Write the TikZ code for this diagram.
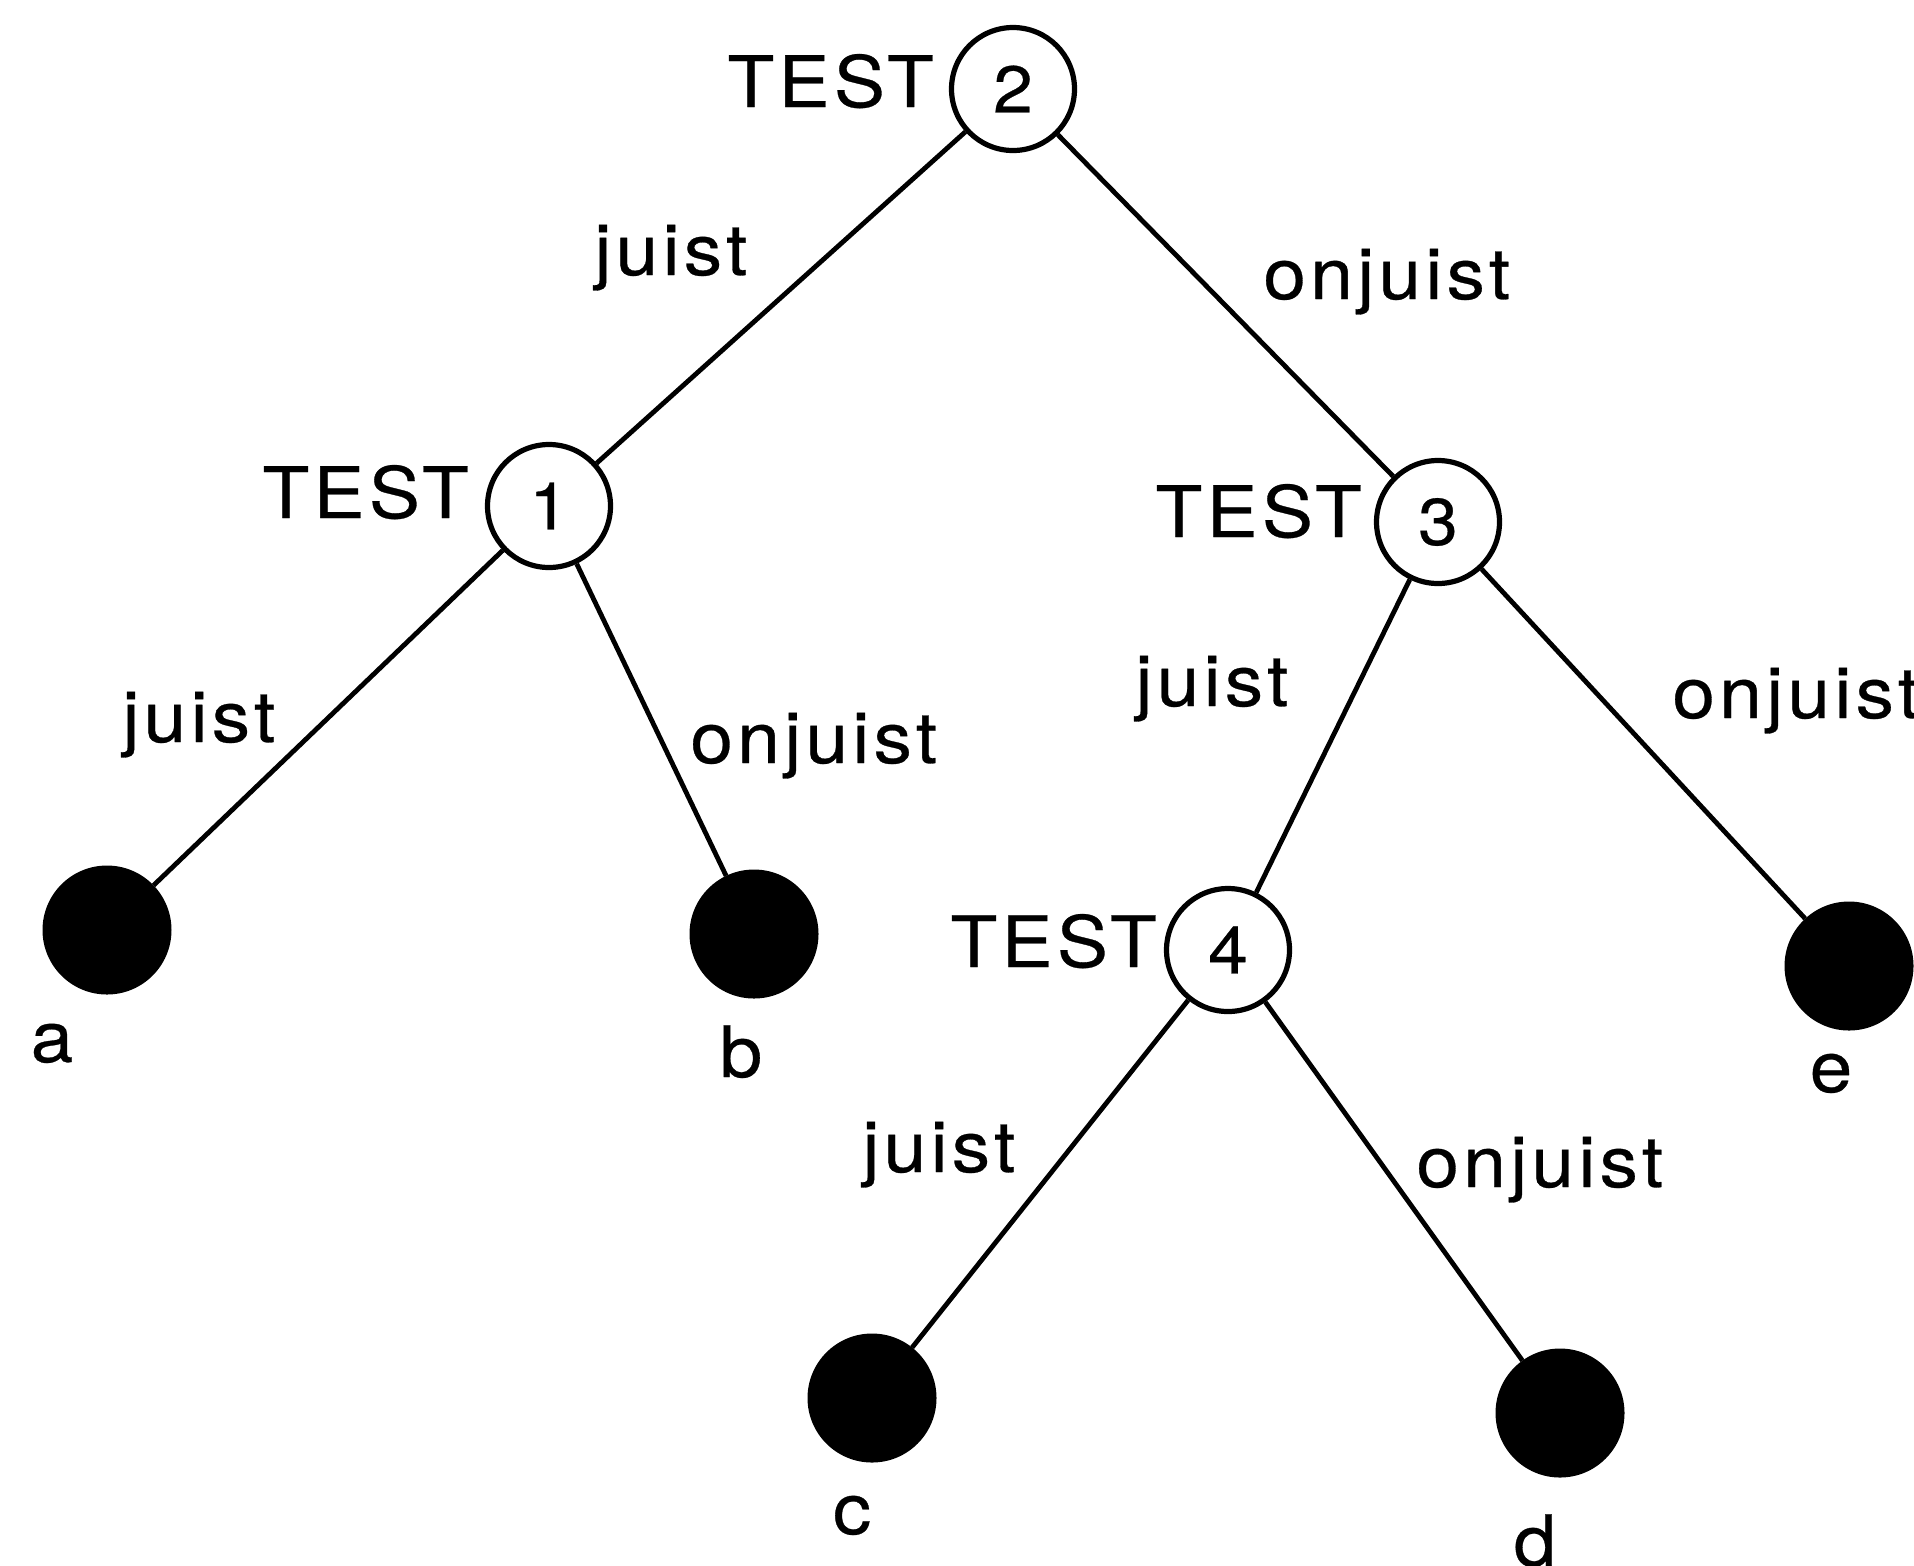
\documentclass[tikz,border=0pt]{standalone}
\usepackage{fontspec}
\setmainfont{TeX Gyre Heros}[LetterSpace=6,FakeStretch=1.08,FakeBold=0.4]
\begin{document}
\begin{tikzpicture}[x=0.5pt,y=-0.5pt,
  lbl/.style={inner sep=0pt,font=\fontsize{35.5pt}{40pt}\selectfont},
  testnode/.style={circle,draw,line width=2.6pt,fill=white,minimum size=61.5pt,inner sep=0pt,font=\fontsize{33pt}{38pt}\selectfont},
  leaf/.style={circle,draw,fill=black,line width=1.5pt,minimum size=63pt,inner sep=0pt},
  edge/.style={line width=2.4pt}]
\useasboundingbox (0,0) rectangle (1914,1565);
% decision nodes
\node[testnode] (t2) at (1013,89) {2};
\node[testnode] (t1) at (549,506) {1};
\node[testnode] (t3) at (1438,522) {3};
\node[testnode] (t4) at (1228,950) {4};
% leaves
\node[leaf] (la) at (107,930) {};
\node[leaf] (lb) at (754,934) {};
\node[leaf] (lc) at (872,1398) {};
\node[leaf] (ld) at (1560,1413) {};
\node[leaf] (le) at (1849,966) {};
% edges
\draw[edge] (t2) -- (t1);
\draw[edge] (t2) -- (t3);
\draw[edge] (t1) -- (la);
\draw[edge] (t1) -- (lb);
\draw[edge] (t3) -- (t4);
\draw[edge] (t3) -- (le);
\draw[edge] (t4) -- (lc);
\draw[edge] (t4) -- (ld);
% TEST labels
\node[lbl,anchor=base west] (n2) at (727,107) {TEST};
\node[lbl,anchor=base west] (n1) at (262,518) {TEST};
\node[lbl,anchor=base west] (n3) at (1155,537) {TEST};
\node[lbl,anchor=base west] (n4) at (950,967) {TEST};
% edge labels
\node[lbl,anchor=base west] (e21) at (594,275) {juist};
\node[lbl,anchor=base west] (e23) at (1263,299) {onjuist};
\node[lbl,anchor=base west] (e1a) at (122,742) {juist};
\node[lbl,anchor=base west] (e1b) at (690,763) {onjuist};
\node[lbl,anchor=base west] (e34) at (1135,706) {juist};
\node[lbl,anchor=base west] (e3e) at (1672,718) {onjuist};
\node[lbl,anchor=base west] (e4c) at (862,1172) {juist};
\node[lbl,anchor=base west] (e4d) at (1416,1187) {onjuist};
% leaf labels
\node[lbl,anchor=base] (ta) at (52,1062) {a};
\node[lbl,anchor=base] (tb) at (741,1077) {b};
\node[lbl,anchor=base] (tc) at (852,1534) {c};
\node[lbl,anchor=base] (td) at (1535,1566) {d};
\node[lbl,anchor=base] (te) at (1831,1092) {e};
\end{tikzpicture}
\end{document}
